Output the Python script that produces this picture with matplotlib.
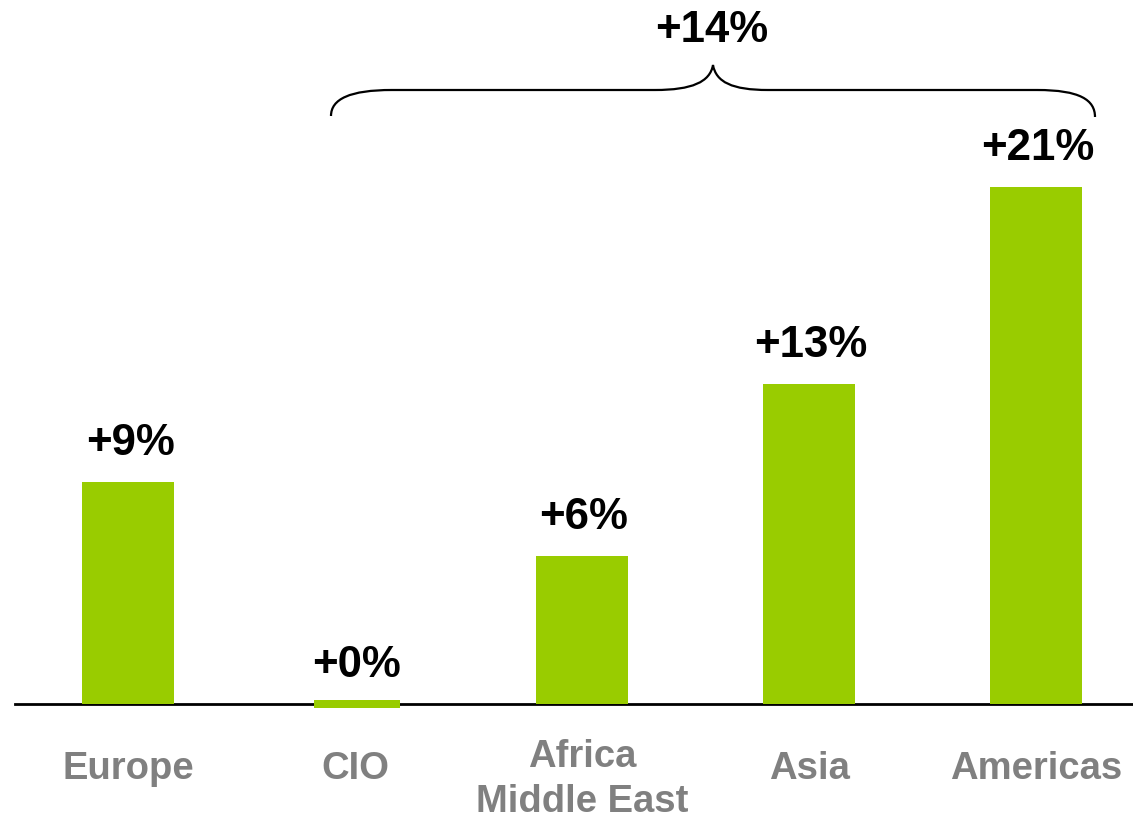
import matplotlib
matplotlib.use("Agg")
import matplotlib.pyplot as plt
from matplotlib.path import Path
from matplotlib.patches import PathPatch

# ---- data ----
categories = ["Europe", "CIO", "Africa\nMiddle East", "Asia", "Americas"]
values = [9, 0, 6, 13, 21]
value_labels = ["+9%", "+0%", "+6%", "+13%", "+21%"]
total_label = "+14%"

# ---- style ----
W, H = 1133, 819
BAR_COLOR = "#99CC00"
LABEL_GRAY = "#808080"
FONT = ["Liberation Sans", "DejaVu Sans"]

# pixel mapping helpers (axes fill the whole figure)
X0_PX, DX_PX = 128.0, 227.0       # centre of first bar, spacing
Y0_PX, DY_PX = 703.7, 24.6        # baseline pixel row, pixels per percent


def px(xp, yp):
    return (xp - X0_PX) / DX_PX, (Y0_PX - yp) / DY_PX


fig = plt.figure(figsize=(W / 100, H / 100), dpi=100)
ax = fig.add_axes([0, 0, 1, 1])
xl, yt = px(0, 0)
xr, yb = px(W, H)
ax.set_xlim(xl, xr)
ax.set_ylim(yb, yt)
ax.axis("off")

xs = list(range(len(categories)))
bar_w = 92 / DX_PX

# bars
for x, v in zip(xs, values):
    if v == 0:
        # zero value shown as a thin stub straddling the baseline
        ax.bar(x + 2 / DX_PX, 8 / DY_PX, bottom=-4.3 / DY_PX, width=bar_w * 0.94,
               color=BAR_COLOR, zorder=3)
    else:
        ax.bar(x, v, width=bar_w, color=BAR_COLOR, zorder=3)

# baseline
ax.axhline(0, xmin=15 / W, xmax=1.0, color="black", lw=2, zorder=2)

# value labels
for x, v, lab in zip(xs, values, value_labels):
    top = max(v, 0)
    ax.text(x + 2 / DX_PX, top + 27 / DY_PX, lab, ha="center", va="baseline",
            fontsize=31.5, fontweight="bold", color="black", family=FONT)

# category labels
for x, c in zip(xs, categories):
    if "\n" in c:
        _, yy = px(0, 812)
    else:
        _, yy = px(0, 779)
    ax.text(x, yy, c, ha="center", va="baseline", fontsize=27.5,
            fontweight="bold", color=LABEL_GRAY, family=FONT,
            linespacing=1.32)

# brace over CIO..Americas
pts_px = [
    ((331, 116), Path.MOVETO),
    ((331, 99), Path.CURVE4), ((350, 90), Path.CURVE4), ((392, 90), Path.CURVE4),
    ((655, 90), Path.LINETO),
    ((692, 90), Path.CURVE4), ((710, 82), Path.CURVE4), ((713, 65), Path.CURVE4),
    ((716, 82), Path.CURVE4), ((732, 90), Path.CURVE4), ((768, 90), Path.CURVE4),
    ((1037, 90), Path.LINETO),
    ((1080, 90), Path.CURVE4), ((1095, 100), Path.CURVE4), ((1095, 117), Path.CURVE4),
]
verts = [px(*p) for p, _ in pts_px]
codes = [c for _, c in pts_px]
ax.add_patch(PathPatch(Path(verts, codes), facecolor="none",
                       edgecolor="black", lw=1.6, zorder=4))

tx, ty = px(712, 42)
ax.text(tx, ty, total_label, ha="center", va="baseline", fontsize=31.5,
        fontweight="bold", color="black", family=FONT)

fig.savefig("out.png", dpi=100)
